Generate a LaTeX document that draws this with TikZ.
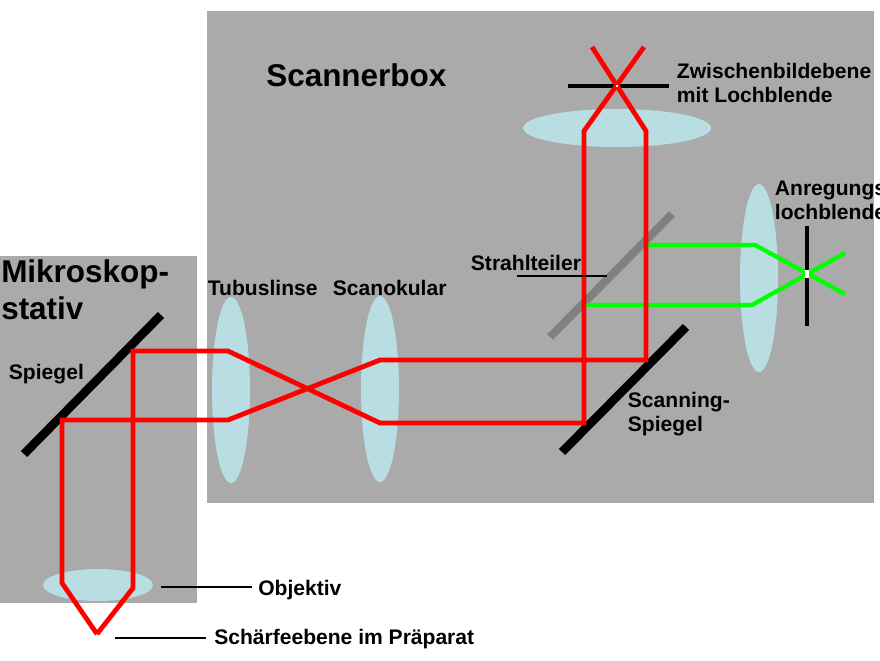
\documentclass[tikz,border=0pt]{standalone}
\usepackage{fontspec}
\setmainfont{Liberation Sans}
\definecolor{boxgray}{rgb}{0.667,0.667,0.667}
\definecolor{lensblue}{rgb}{0.72,0.87,0.89}
\definecolor{splitgray}{rgb}{0.5,0.5,0.5}
\tikzset{
  box/.style={fill=boxgray, draw=none},
  lens/.style={fill=lensblue, draw=none},
  mirror/.style={line width=6.5pt, black},
  splitter/.style={line width=6pt, splitgray},
  stop/.style={line width=3.5pt, black},
  redray/.style={line width=3.6pt, red, line join=miter},
  greenray/.style={line width=3.2pt, green},
  leader/.style={line width=1.2pt, black},
  lbl/.style={font=\bfseries\fontsize{15.8}{18.2}\selectfont, anchor=west, inner sep=2pt, align=left},
  biglbl/.style={font=\bfseries\fontsize{23.6}{28}\selectfont, anchor=west, inner sep=0pt, align=left}
}

\begin{document}
\begin{tikzpicture}[x=0.75pt, y=-0.75pt]

\clip (0,0) rectangle (880,660);
\useasboundingbox (0,0) rectangle (880,660);

% housings
\draw[box] (0,256) rectangle (197,603);
\draw[box] (207,11) rectangle (874,503);

% lenses
\draw[lens] (231,390) ellipse (19 and 93);
\draw[lens] (380,389) ellipse (19 and 93);
\draw[lens] (617,128) ellipse (94 and 19);
\draw[lens] (759,278) ellipse (19 and 94);
\draw[lens] (98,585) ellipse (55 and 16);

% mirrors
\draw[mirror] (24,454) -- (161,315);
\draw[mirror] (562,452) -- (686,327);
\draw[splitter] (550,337) -- (672,214);

% pinholes
\draw[stop] (568,86) -- (669,86);
\draw[stop] (807,226) -- (807,326);

% beams
\draw[greenray] (648,245) -- (755,245) -- (845,294);
\draw[greenray] (585,305) -- (752,305) -- (845,253);
\draw[redray] (97,634) -- (62,583) -- (62,420) -- (228,420) -- (380,360) -- (646,360) -- (646,131) -- (592,47);
\draw[redray] (97,634) -- (133,588) -- (133,351) -- (228,351) -- (380,423) -- (584,423) -- (584,131) -- (644,47);
\fill[white] (805,270) rectangle (809,278);
\fill[white] (616,85) rectangle (618,87);

% labels
\node[biglbl] (scannerbox) at (266,75) {Scannerbox};
\node[biglbl] (stativ) at (1,290) {Mikroskop-\\stativ};
\node[lbl] (tubuslinse) at (205,288) {Tubuslinse};
\node[lbl] (scanokular) at (330,288) {Scanokular};
\node[lbl] (spiegel) at (6,374) {Spiegel};
\node[lbl] (strahlteiler) at (468,263) {Strahlteiler};
\node[lbl] (scanning) at (625,414) {Scanning-\\Spiegel};
\node[lbl] (zwischenbild) at (674,83) {Zwischenbildebene\\mit Lochblende};
\node[lbl] (anregung) at (772,200) {Anregungs-\\lochblende};
\node[lbl, inner xsep=4.5pt] (objektiv) at (252,590) {Objektiv};
\node[lbl, inner xsep=6pt] (schaerfe) at (206,639) {Schärfeebene im Präparat};

% leaders
\coordinate (splitend) at (607,276);
\coordinate (splitstart) at (517,276);
\coordinate (objend) at (161,587);
\coordinate (schaerfeend) at (115,638);
\draw[leader] (splitstart) -- (splitend);
\draw[leader] (objektiv.west |- objend) -- (objend);
\draw[leader] (schaerfe.west |- schaerfeend) -- (schaerfeend);

\end{tikzpicture}
\end{document}
